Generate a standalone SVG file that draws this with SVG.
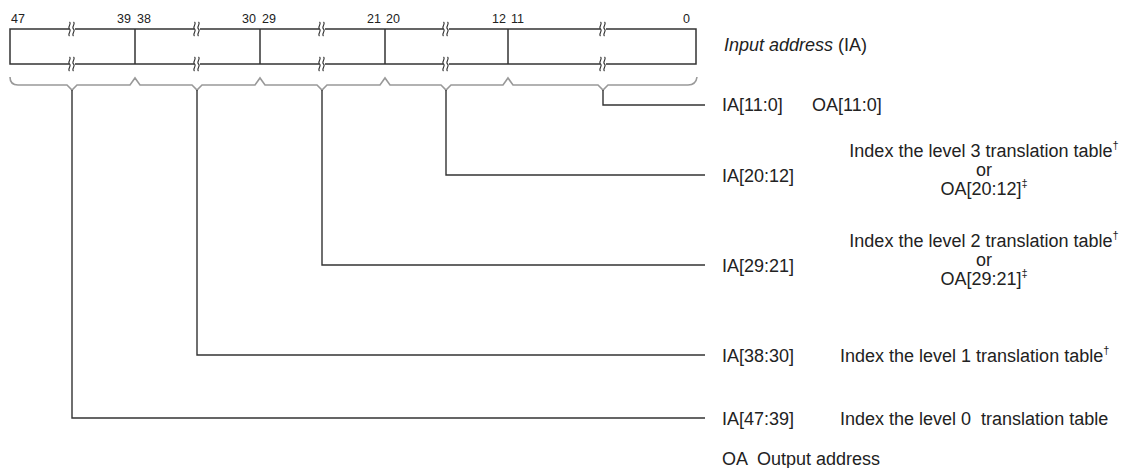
<svg xmlns="http://www.w3.org/2000/svg" width="1142" height="468" viewBox="0 0 1142 468">
<style>
text{font-family:"Liberation Sans",Arial,sans-serif;fill:#222}
.num{font-size:12.5px}
.lbl{font-size:18px}
.mid{text-anchor:middle}
.sup{font-size:11px}
.box{fill:none;stroke:#333;stroke-width:1.5}
.brace{fill:none;stroke:#999;stroke-width:1.6;stroke-linejoin:miter}
.conn{fill:none;stroke:#333;stroke-width:1.4}
.brk{fill:none;stroke:#333;stroke-width:1.1}
</style>
<defs>
<g id="brk">
<rect x="-3" y="-3" width="6" height="6" fill="#fff"/>
<path class="brk" d="M-2.5,-7 c2.5,2 -2.5,5 0,7 c2.5,2 -2.5,5 0,7"/>
<path class="brk" d="M1.5,-7 c2.5,2 -2.5,5 0,7 c2.5,2 -2.5,5 0,7"/>
</g>
</defs>
<g id="register">
<rect class="box" x="10" y="29" width="686" height="35"/>
<line class="box" x1="135" y1="29" x2="135" y2="64"/>
<line class="box" x1="260" y1="29" x2="260" y2="64"/>
<line class="box" x1="385" y1="29" x2="385" y2="64"/>
<line class="box" x1="508" y1="29" x2="508" y2="64"/>
<use href="#brk" x="72" y="29"/><use href="#brk" x="72" y="64"/>
<use href="#brk" x="197" y="29"/><use href="#brk" x="197" y="64"/>
<use href="#brk" x="322" y="29"/><use href="#brk" x="322" y="64"/>
<use href="#brk" x="446" y="29"/><use href="#brk" x="446" y="64"/>
<use href="#brk" x="603" y="29"/><use href="#brk" x="603" y="64"/>
<text class="num" x="11" y="23">47</text>
<text class="num" x="131" y="23" text-anchor="end">39</text>
<text class="num" x="137" y="23">38</text>
<text class="num" x="256" y="23" text-anchor="end">30</text>
<text class="num" x="262" y="23">29</text>
<text class="num" x="381" y="23" text-anchor="end">21</text>
<text class="num" x="386" y="23">20</text>
<text class="num" x="506" y="23" text-anchor="end">12</text>
<text class="num" x="511" y="23">11</text>
<text class="num" x="690" y="23" text-anchor="end">0</text>
<text class="lbl" x="724" y="51"><tspan font-style="italic">Input address</tspan> (IA)</text>
</g>
<g id="braces">
<path class="brace" d="M10,77 Q10,85 18,85 L67,85 L72,90 L77,85 L130,85 L135,78 L140,85 L192,85 L197,90 L202,85 L255,85 L260,78 L265,85 L317,85 L322,90 L327,85 L380,85 L385,78 L390,85 L441,85 L446,90 L451,85 L503,85 L508,78 L513,85 L598,85 L603,90 L608,85 L688,85 Q696,85 697,77"/>
</g>
<g id="connectors">
<path class="conn" d="M603,90 V105 H705"/>
<path class="conn" d="M446,90 V175 H705"/>
<path class="conn" d="M322,90 V265 H705"/>
<path class="conn" d="M197,90 V355 H705"/>
<path class="conn" d="M72,90 V418 H705"/>
</g>
<g id="n-ia11">
<text class="lbl" x="722" y="111">IA[11:0]</text>
<text class="lbl" x="812" y="111">OA[11:0]</text>
</g>
<g id="n-ia20">
<text class="lbl" x="722" y="182">IA[20:12]</text>
<text class="lbl mid" x="984" y="157">Index the level 3 translation table<tspan class="sup" dy="-8">†</tspan></text>
<text class="lbl mid" x="984" y="176">or</text>
<text class="lbl mid" x="984" y="195">OA[20:12]<tspan class="sup" dy="-8">‡</tspan></text>
</g>
<g id="n-ia29">
<text class="lbl" x="722" y="272">IA[29:21]</text>
<text class="lbl mid" x="984" y="247">Index the level 2 translation table<tspan class="sup" dy="-8">†</tspan></text>
<text class="lbl mid" x="984" y="266">or</text>
<text class="lbl mid" x="984" y="285">OA[29:21]<tspan class="sup" dy="-8">‡</tspan></text>
</g>
<g id="n-ia38">
<text class="lbl" x="722" y="362">IA[38:30]</text>
<text class="lbl" x="840" y="362">Index the level 1 translation table<tspan class="sup" dy="-8">†</tspan></text>
</g>
<g id="n-ia47">
<text class="lbl" x="722" y="425">IA[47:39]</text>
<text class="lbl" x="840" y="425" xml:space="preserve">Index the level 0  translation table</text>
</g>
<g id="legend">
<text class="lbl" x="722" y="465" xml:space="preserve">OA  Output address</text>
</g>
</svg>
